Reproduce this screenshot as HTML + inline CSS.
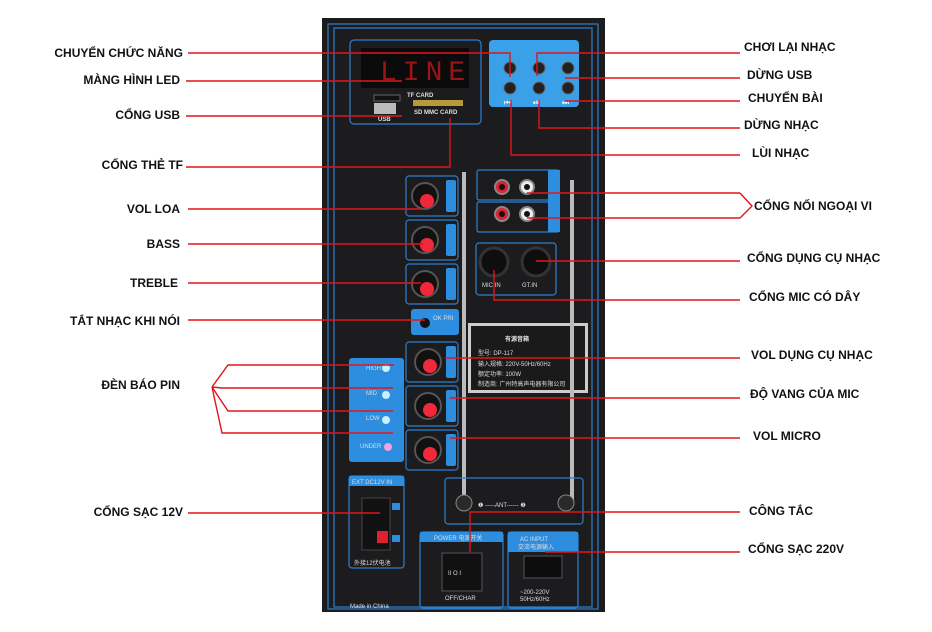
<!DOCTYPE html>
<html><head><meta charset="utf-8"><style>
html,body{margin:0;padding:0;background:#fff;width:932px;height:632px;overflow:hidden}
svg{display:block}
.t{font-family:"Liberation Sans",Arial,sans-serif;font-weight:bold;font-size:12px;fill:#111}
.s{font-family:"Liberation Sans",Arial,sans-serif;font-size:6px;fill:#ddd}
.r{stroke:#e0161b;stroke-width:1.4;fill:none}
.bp{fill:none;stroke:#2d7fd0;stroke-width:1.2}
</style></head><body>
<svg width="932" height="632" viewBox="0 0 932 632">
<!-- panel -->
<rect x="322" y="18" width="283" height="594" fill="#1c1c1e"/>
<rect x="328" y="24" width="270" height="585" class="bp" stroke-width="1.5"/>
<rect x="334" y="28" width="258" height="579" class="bp" stroke="#1d5fa5"/>
<!-- LED/USB box -->
<rect x="350" y="40" width="131" height="84" rx="4" class="bp"/>
<rect x="361" y="48" width="108" height="40" fill="#0b0b0b"/>
<text x="380" y="80" font-family="Liberation Mono,monospace" font-size="28" fill="#9a1515" letter-spacing="6">LINE</text>
<rect x="374" y="95" width="26" height="6" fill="#111" stroke="#666"/>
<text x="407" y="97" class="s" font-weight="bold" font-size="7">TF CARD</text>
<rect x="374" y="103" width="22" height="11" fill="#bbb"/>
<text x="378" y="121" class="s" font-weight="bold" font-size="7">USB</text>
<rect x="413" y="100" width="50" height="6" fill="#b59a3a"/>
<text x="414" y="114" class="s" font-weight="bold" font-size="7">SD MMC CARD</text>
<!-- blue control box -->
<rect x="489" y="40" width="90" height="67" rx="4" fill="#3aa0e8"/>
<g fill="#222" stroke="#666"><circle cx="510" cy="68" r="6"/><circle cx="539" cy="68" r="6"/><circle cx="568" cy="68" r="6"/><circle cx="510" cy="88" r="6"/><circle cx="539" cy="88" r="6"/><circle cx="568" cy="88" r="6"/></g>
<g fill="#fff" font-size="8" font-family="Liberation Sans,sans-serif"><text x="504" y="105">⏮</text><text x="533" y="105">⏯</text><text x="562" y="105">⏭</text></g>
<!-- knobs -->
<g>
<rect x="406" y="176" width="52" height="40" rx="3" class="bp"/>
<rect x="406" y="220" width="52" height="40" rx="3" class="bp"/>
<rect x="406" y="264" width="52" height="40" rx="3" class="bp"/>
<rect x="406" y="342" width="52" height="40" rx="3" class="bp"/>
<rect x="406" y="386" width="52" height="40" rx="3" class="bp"/>
<rect x="406" y="430" width="52" height="40" rx="3" class="bp"/>
<g fill="#2d8ee0"><rect x="446" y="180" width="10" height="32" rx="2"/><rect x="446" y="224" width="10" height="32" rx="2"/><rect x="446" y="268" width="10" height="32" rx="2"/><rect x="446" y="346" width="10" height="32" rx="2"/><rect x="446" y="390" width="10" height="32" rx="2"/><rect x="446" y="434" width="10" height="32" rx="2"/></g>
<g fill="#111" stroke="#555" stroke-width="2"><circle cx="425" cy="196" r="13"/><circle cx="425" cy="240" r="13"/><circle cx="425" cy="284" r="13"/><circle cx="428" cy="362" r="13"/><circle cx="428" cy="406" r="13"/><circle cx="428" cy="450" r="13"/></g>
<g fill="#f0283a"><circle cx="427" cy="201" r="7"/><circle cx="427" cy="245" r="7"/><circle cx="427" cy="289" r="7"/><circle cx="430" cy="366" r="7"/><circle cx="430" cy="410" r="7"/><circle cx="430" cy="454" r="7"/></g>
</g>
<rect x="411" y="309" width="48" height="26" rx="3" fill="#2d8ee0"/>
<circle cx="425" cy="323" r="5" fill="#111"/>
<text x="433" y="320" class="s" fill="#fff">OK PRI</text>
<!-- battery indicator -->
<rect x="349" y="358" width="55" height="104" rx="3" fill="#2d8ee0"/>
<g fill="#c8f0ff"><circle cx="386" cy="368" r="4"/><circle cx="386" cy="395" r="4"/><circle cx="386" cy="420" r="4"/></g>
<circle cx="388" cy="447" r="4" fill="#f3a0e0"/>
<text x="366" y="370" class="s" fill="#fff">HIGH</text><text x="366" y="395" class="s" fill="#fff">MID</text><text x="366" y="420" class="s" fill="#fff">LOW</text><text x="360" y="448" class="s" fill="#fff">UNDER</text>
<!-- aux -->
<rect x="477" y="170" width="82" height="30" rx="2" class="bp"/>
<rect x="477" y="202" width="82" height="30" rx="2" class="bp"/>
<rect x="548" y="170" width="12" height="62" fill="#2d8ee0"/>
<g stroke="#888" stroke-width="2"><circle cx="502" cy="187" r="7" fill="#e02030"/><circle cx="527" cy="187" r="7" fill="#eee"/><circle cx="502" cy="214" r="7" fill="#e02030"/><circle cx="527" cy="214" r="7" fill="#eee"/></g>
<g fill="#111"><circle cx="502" cy="187" r="3"/><circle cx="527" cy="187" r="3"/><circle cx="502" cy="214" r="3"/><circle cx="527" cy="214" r="3"/></g>
<!-- mic jacks -->
<rect x="476" y="243" width="80" height="52" rx="3" class="bp"/>
<circle cx="494" cy="262" r="14" fill="#0e0e0e" stroke="#333" stroke-width="3"/>
<circle cx="536" cy="262" r="14" fill="#0e0e0e" stroke="#333" stroke-width="3"/>
<text x="482" y="287" class="s">MIC.IN</text><text x="522" y="287" class="s">GT.IN</text>
<!-- label plate -->
<rect x="468" y="323" width="120" height="70" fill="#ccc"/>
<rect x="471" y="326" width="114" height="64" fill="#1a1a1a"/>
<text x="505" y="341" class="s" font-size="9" font-weight="bold" fill="#eee">有源音箱</text>
<text x="478" y="355" class="s" fill="#ccc">型号: DP-117</text>
<text x="478" y="366" class="s" fill="#ccc">输入规格: 220V-50Hz/60Hz</text>
<text x="478" y="376" class="s" fill="#ccc">额定功率: 100W</text>
<text x="478" y="386" class="s" fill="#ccc">制造商: 广州特高声电器有限公司</text>
<!-- antennas -->
<g stroke="#bbb" stroke-width="4"><line x1="464" y1="172" x2="464" y2="500"/><line x1="572" y1="180" x2="572" y2="500"/></g>
<rect x="445" y="478" width="138" height="46" rx="3" class="bp"/>
<g fill="#2a2a2a" stroke="#888"><circle cx="464" cy="503" r="8"/><circle cx="566" cy="503" r="8"/></g>
<text x="478" y="507" class="s">❶ -----ANT------ ❷</text>
<!-- DC in -->
<rect x="349" y="476" width="55" height="92" rx="3" class="bp"/>
<rect x="349" y="476" width="55" height="10" fill="#2d8ee0"/>
<text x="352" y="484" class="s" fill="#fff">EXT DC12V IN</text>
<rect x="362" y="498" width="28" height="52" fill="#111" stroke="#444"/>
<rect x="377" y="531" width="11" height="12" fill="#e02030"/>
<rect x="392" y="503" width="8" height="7" fill="#2d8ee0"/><rect x="392" y="535" width="8" height="7" fill="#2d8ee0"/>
<text x="354" y="565" class="s" fill="#8ac">外接12伏电池</text>
<!-- power -->
<rect x="420" y="532" width="83" height="76" rx="3" class="bp"/>
<rect x="420" y="532" width="83" height="10" fill="#2d8ee0"/>
<text x="434" y="540" class="s" fill="#fff">POWER 电源开关</text>
<rect x="442" y="553" width="40" height="38" fill="#111" stroke="#555"/>
<text x="448" y="575" class="s" font-size="9" fill="#fff">II O I</text>
<text x="445" y="600" class="s">OFF/CHAR</text>
<rect x="508" y="532" width="70" height="76" rx="3" class="bp"/>
<rect x="508" y="532" width="70" height="20" fill="#2d8ee0"/>
<text x="520" y="541" class="s" fill="#fff">AC INPUT</text>
<text x="518" y="549" class="s" fill="#fff">交流电源输入</text>
<rect x="524" y="556" width="38" height="22" fill="#0d0d0d" stroke="#555"/>
<text x="520" y="594" class="s">~200-220V</text><text x="520" y="601" class="s">50Hz/60Hz</text>
<text x="350" y="608" class="s" font-size="8">Made in China</text>

<!-- red connector lines left -->
<path class="r" d="M188 53 H510 V77"/>
<path class="r" d="M186 81 H402"/>
<path class="r" d="M186 116 H402"/>
<path class="r" d="M186 167 H450 V118"/>
<path class="r" d="M188 209 H421"/>
<path class="r" d="M188 244 H423"/>
<path class="r" d="M188 283 H421"/>
<path class="r" d="M188 320 H425"/>
<path class="r" d="M212 387 L228 365 H394 M212 387 L222 388 H393 M212 387 L228 411 H393 M212 387 L222 433 H393"/>
<path class="r" d="M188 513 H380"/>
<!-- right -->
<path class="r" d="M740 53 H537 V76"/>
<path class="r" d="M740 78 H565"/>
<path class="r" d="M740 101 H565"/>
<path class="r" d="M740 128 H539 V100"/>
<path class="r" d="M740 155 H511 V100"/>
<path class="r" d="M740 193 L752 206 L740 218 M740 193 H527 M740 218 H527"/>
<path class="r" d="M740 261 H536"/>
<path class="r" d="M740 300 H494 V270"/>
<path class="r" d="M740 358 H445"/>
<path class="r" d="M740 398 H450"/>
<path class="r" d="M740 438 H450"/>
<path class="r" d="M740 512 H470 V552"/>
<path class="r" d="M740 552 H545"/>

<!-- labels left -->
<g class="t" text-anchor="end">
<text x="183" y="57">CHUYỂN CHỨC NĂNG</text>
<text x="180" y="84">MÀNG HÌNH LED</text>
<text x="180" y="119">CỔNG USB</text>
<text x="183" y="169">CỔNG THẺ TF</text>
<text x="180" y="213">VOL LOA</text>
<text x="180" y="248">BASS</text>
<text x="178" y="287">TREBLE</text>
<text x="180" y="325">TẮT NHẠC KHI NÓI</text>
<text x="180" y="389">ĐÈN BÁO PIN</text>
<text x="183" y="516">CỔNG SẠC 12V</text>
</g>
<g class="t">
<text x="744" y="51">CHƠI LẠI NHẠC</text>
<text x="747" y="79">DỪNG USB</text>
<text x="748" y="102">CHUYỂN BÀI</text>
<text x="744" y="129">DỪNG NHẠC</text>
<text x="752" y="157">LÙI NHẠC</text>
<text x="754" y="210">CỔNG NỐI NGOẠI VI</text>
<text x="747" y="262">CỔNG DỤNG CỤ NHẠC</text>
<text x="749" y="301">CỔNG MIC CÓ DÂY</text>
<text x="751" y="359">VOL DỤNG CỤ NHẠC</text>
<text x="750" y="398">ĐỘ VANG CỦA MIC</text>
<text x="753" y="440">VOL MICRO</text>
<text x="749" y="515">CÔNG TẮC</text>
<text x="748" y="553">CỔNG SẠC 220V</text>
</g>
</svg>
</body></html>
